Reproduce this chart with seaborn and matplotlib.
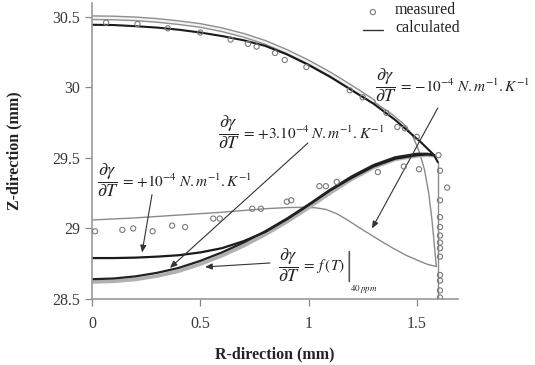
import numpy as np
import pandas as pd
import matplotlib
matplotlib.use("Agg")
import matplotlib.pyplot as plt
import seaborn as sns

# ---------------- data ----------------
# calculated profiles
top_black_r = [0.0, 0.1, 0.2, 0.3, 0.4, 0.5, 0.6, 0.7, 0.8, 0.9, 1.0, 1.1, 1.2, 1.3,
               1.4, 1.46, 1.52, 1.56, 1.58, 1.597]
top_black_z = [30.445, 30.443, 30.435, 30.425, 30.41, 30.39, 30.365, 30.335, 30.295, 30.235,
               30.16, 30.075, 29.98, 29.885, 29.77, 29.69, 29.61, 29.55, 29.52, 29.47]

top_band_r = [0.0, 0.1, 0.2, 0.3, 0.4, 0.5, 0.6, 0.7, 0.8, 0.9, 1.0, 1.1, 1.2, 1.3]
top_band_z = [30.495, 30.493, 30.487, 30.476, 30.46, 30.44, 30.41, 30.37, 30.32, 30.255,
              30.18, 30.095, 30.0, 29.9]

arc_r = [1.3, 1.385, 1.44, 1.48, 1.51, 1.535, 1.555, 1.57, 1.58, 1.587, 1.59]
arc_z = [29.9, 29.81, 29.74, 29.66, 29.55, 29.42, 29.25, 29.06, 28.9, 28.78, 28.73]

ft_r = [0.0, 0.2, 0.4, 0.6, 0.8, 0.9, 0.97, 1.03, 1.08, 1.13, 1.18, 1.23, 1.28, 1.34,
        1.39, 1.45, 1.51, 1.55, 1.59]
ft_z = [29.06, 29.075, 29.095, 29.115, 29.14, 29.148, 29.15, 29.147, 29.135, 29.105, 29.06,
        29.01, 28.962, 28.905, 28.86, 28.81, 28.77, 28.745, 28.73]

p10_r = [0.0, 0.1, 0.2, 0.3, 0.4, 0.5, 0.6, 0.7, 0.8, 0.9, 1.0, 1.1, 1.2, 1.3, 1.4, 1.5,
         1.55, 1.58]
p10_z = [28.79, 28.79, 28.793, 28.80, 28.81, 28.83, 28.86, 28.91, 28.975, 29.065, 29.165,
         29.27, 29.36, 29.44, 29.495, 29.52, 29.525, 29.52]

p3_r = [0.0, 0.1, 0.2, 0.3, 0.4, 0.5, 0.6, 0.7, 0.8, 0.9, 1.0, 1.1, 1.2, 1.3, 1.4, 1.5,
        1.55, 1.58]
p3_z = [28.64, 28.645, 28.66, 28.685, 28.72, 28.77, 28.83, 28.9, 28.98, 29.07, 29.17,
        29.275, 29.37, 29.45, 29.505, 29.53, 29.53, 29.52]

p3s_r = [0.0, 0.1, 0.2, 0.3, 0.4, 0.5, 0.6, 0.7, 0.8, 0.9, 1.0, 1.1, 1.2, 1.3, 1.4, 1.5,
         1.55, 1.58]
p3s_z = [28.62, 28.625, 28.638, 28.662, 28.697, 28.747, 28.807, 28.877, 28.957, 29.047,
         29.147, 29.252, 29.35, 29.432, 29.49, 29.515, 29.52, 29.515]

wall_r = [1.597, 1.597]
wall_z = [29.47, 28.5]

# measured points
meas_r = [0.065, 0.21, 0.35, 0.5, 0.64, 0.72, 0.76, 0.845, 0.89, 0.99, 1.19, 1.25,
          1.36, 1.41, 1.445, 1.50, 1.60,
          0.014, 0.14, 0.19, 0.28, 0.37, 0.43, 0.56, 0.59, 0.74, 0.78, 0.90, 0.92,
          1.05, 1.08, 1.13, 1.32, 1.44, 1.51,
          1.607, 1.64, 1.607, 1.607, 1.607, 1.607, 1.607, 1.607, 1.607, 1.607,
          1.607, 1.607, 1.607]
meas_z = [30.46, 30.45, 30.42, 30.39, 30.34, 30.31, 30.29, 30.245, 30.195, 30.145, 29.98, 29.93,
          29.82, 29.72, 29.71, 29.65, 29.52,
          28.98, 28.99, 29.00, 28.98, 29.02, 29.01, 29.07, 29.07, 29.14, 29.14, 29.19, 29.20,
          29.30, 29.30, 29.33, 29.40, 29.44, 29.42,
          29.41, 29.29, 29.20, 29.08, 29.01, 28.95, 28.90, 28.86, 28.80, 28.67,
          28.63, 28.56, 28.51]

x_ticks = [0, 0.5, 1, 1.5]
x_tick_labels = ["0", "0.5", "1", "1.5"]
y_ticks = [28.5, 29, 29.5, 30, 30.5]
y_tick_labels = ["28.5", "29", "29.5", "30", "30.5"]

label_values = [r"{-}10^{-4}", r"{+}3.10^{-4}", r"{+}10^{-4}"]

# ---------------- styling ----------------
sns.set_theme(style="ticks")
plt.rcParams["font.family"] = ["Liberation Serif", "DejaVu Serif"]
plt.rcParams["mathtext.fontset"] = "stix"

fig = plt.figure(figsize=(5.35, 3.65), dpi=100)
ax = fig.add_axes([0.172, 0.181, 0.684, 0.811])

GRAY = "#8a8a8a"

def line(r, z, **kw):
    df = pd.DataFrame({"r": r, "z": z})
    sns.lineplot(data=df, x="r", y="z", sort=False, estimator=None, ax=ax, **kw)

# thin gray profile lines
line(arc_r, arc_z, color=GRAY, lw=1.0)
line(ft_r, ft_z, color=GRAY, lw=1.0)
line(wall_r, wall_z, color=GRAY, lw=1.0)
# double (band) lines
line(top_band_r, top_band_z, color="#8f8f8f", lw=3.6)
line(top_band_r, top_band_z, color="#f2f2f2", lw=1.6)
line(p3s_r, p3s_z, color="#b0b0b0", lw=2.6)
# black lines
line(top_black_r, top_black_z, color="#1a1a1a", lw=1.5)
line(p10_r, p10_z, color="#1a1a1a", lw=1.6)
line(p3_r, p3_z, color="#222222", lw=1.6)

# measured
mdf = pd.DataFrame({"r": meas_r, "z": meas_z})
sns.scatterplot(data=mdf, x="r", y="z", ax=ax, marker="o", s=14,
                facecolor="none", edgecolor="#7a7a7a", linewidth=0.8, zorder=5)

ax.set_xlim(0, 1.69)
ax.set_ylim(28.5, 30.6)
ax.set_xticks(x_ticks)
ax.set_xticklabels(x_tick_labels)
ax.set_yticks(y_ticks)
ax.set_yticklabels(y_tick_labels)
ax.tick_params(axis="both", labelsize=11.5, colors="#3a3a3a", length=5, width=0.9,
               direction="out", color="#888888")
ax.tick_params(axis="x", pad=7)
for s in ["top", "right"]:
    ax.spines[s].set_visible(False)
for s in ["left", "bottom"]:
    ax.spines[s].set_color("#999999")
    ax.spines[s].set_linewidth(1.2)

ax.set_xlabel("R-direction (mm)", fontsize=11.5, fontweight="bold", color="#222222")
ax.set_ylabel("Z-direction (mm)", fontsize=11.5, fontweight="bold", color="#222222")
ax.xaxis.set_label_coords(0.5, -0.16)
ax.yaxis.set_label_coords(-0.19, 0.5)

# legend (manual, as drawn)
ax.scatter([1.297], [30.535], s=14, facecolor="none", edgecolor="#7a7a7a", linewidth=0.8,
           clip_on=False, zorder=6)
ax.plot([1.25, 1.345], [30.41, 30.41], color="#333333", lw=1.0, clip_on=False)
ax.text(1.40, 30.55, "measured", fontsize=11.5, va="center", ha="left", color="#222222")
ax.text(1.40, 30.42, "calculated", fontsize=11.5, va="center", ha="left", color="#222222")

frac = r"$\dfrac{\partial\gamma}{\partial T}$"
arrow_kw = dict(arrowstyle="-|>,head_length=0.35,head_width=0.15", color="#333333", lw=0.8,
                shrinkA=0, shrinkB=0)
TXT = "#222222"

def label(x, y, rest):
    ax.text(x, y, frac, fontsize=13, va="center", ha="left", color=TXT)
    ax.annotate("$" + rest + "$", xy=(x, y), xytext=(23, -1), textcoords="offset pixels",
                fontsize=11, va="center", ha="left", color=TXT)

label(1.307, 30.018, r"=\,%s\;N.m^{-1}.K^{-1}" % label_values[0])
ax.annotate("", xy=(1.293, 29.0), xytext=(1.597, 29.855), arrowprops=arrow_kw)

label(0.582, 29.684, r"=\,%s\;N.m^{-1}.K^{-1}" % label_values[1])
ax.annotate("", xy=(0.36, 28.72), xytext=(0.997, 29.606), arrowprops=arrow_kw)

label(0.023, 29.344, r"=\,%s\;N.m^{-1}.K^{-1}" % label_values[2])
ax.annotate("", xy=(0.231, 28.83), xytext=(0.277, 29.24), arrowprops=arrow_kw)

# f(T) label
ax.text(0.859, 28.74, frac, fontsize=13, va="center", ha="left", color=TXT)
ax.annotate(r"$=\;f\,(T)$", xy=(0.859, 28.74), xytext=(23, -1), textcoords="offset pixels",
            fontsize=11, va="center", ha="left", color=TXT)
ax.annotate("|", xy=(0.859, 28.74), xytext=(67, -1), textcoords="offset pixels",
            fontsize=24, va="center", ha="left", color="#555555", fontweight="light")
ax.annotate(r"$40\,ppm$", xy=(0.859, 28.74), xytext=(72, -24), textcoords="offset pixels",
            fontsize=6.5, va="center", ha="left", color=TXT)
ax.annotate("", xy=(0.522, 28.727), xytext=(0.822, 28.755), arrowprops=arrow_kw)

fig.savefig("out.png", dpi=100, facecolor="white")
